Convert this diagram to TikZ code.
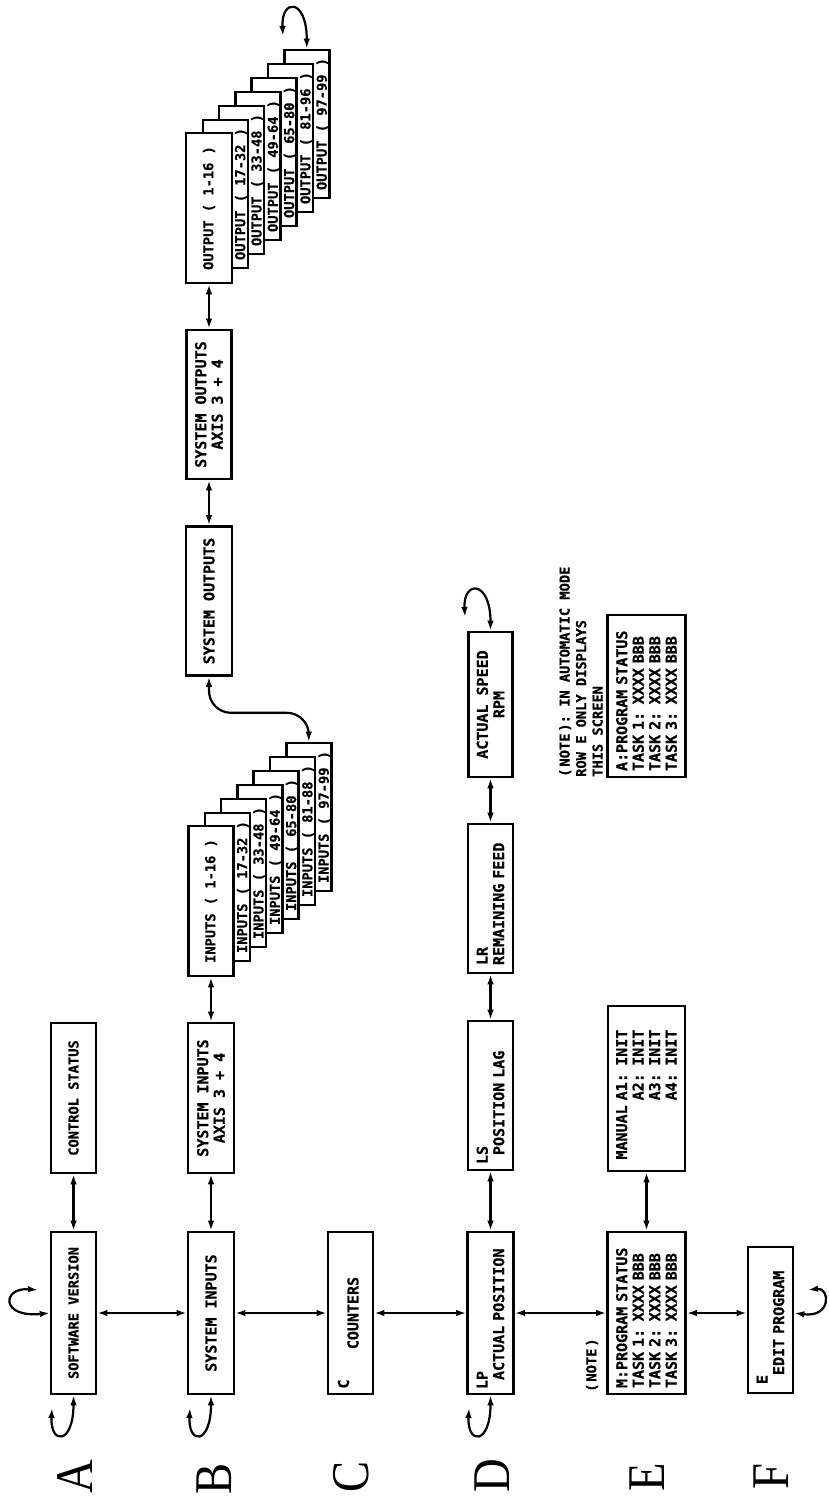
\documentclass[tikz,border=0pt]{standalone}
\usepackage{fontspec}
\usepackage{graphicx}
\usetikzlibrary{arrows.meta}
\newfontfamily\sfam{DejaVu Sans Mono}[BoldFeatures={FakeBold=0.6}]
\newfontfamily\lfam{Liberation Serif}
\newcommand{\pff}{\sfam\bfseries\fontsize{15}{16.5}\selectfont}
\newcommand{\pfs}{\sfam\bfseries\fontsize{13.7}{16.5}\selectfont}
\begin{document}
\begin{tikzpicture}[x=1pt,y=-1pt,
  bx/.style 2 args={draw, line width=2.6pt, fill=white, rotate=90,
    minimum width=#1, minimum height=#2, inner sep=0pt, align=center, font=\pff},
  lbx/.style n args={3}{bx={#1}{#2}, align=left, text width=#3},
  tx/.style={rotate=90, inner sep=0pt, font=\pfs},
  con/.style={line width=2.2pt, {Latex[length=10pt,width=6.5pt]}-{Latex[length=10pt,width=6.5pt]}},
  big/.style={rotate=90, inner sep=0pt, font=\lfam\fontsize{53}{60}\selectfont},
]
\useasboundingbox (0,0) rectangle (828,1498);

% ---------- Row A
\node[bx={162pt}{45pt}, font=\pfs] (sv) at (73.5,1313) {SOFTWARE VERSION};
\node[bx={150pt}{45pt}, font=\pfs] (cs) at (73.5,1098) {CONTROL STATUS};

% ---------- Row B
\node[bx={162pt}{46pt}] (si) at (211,1313) {SYSTEM INPUTS};
\node[bx={150pt}{46pt}] (sia) at (211,1098) {SYSTEM INPUTS\\AXIS 3 + 4};

\node[bx={148pt}{45pt}] (in7) at (308.8,817) {};
\node[tx] (in7t) at ([xshift=-8.2pt]in7.south) {INPUTS ( 97-99 )};
\node[bx={148pt}{45pt}] (in6) at (292.5,831) {};
\node[tx] (in6t) at ([xshift=-8.2pt]in6.south) {INPUTS ( 81-88 )};
\node[bx={148pt}{45pt}] (in5) at (276.2,845) {};
\node[tx] (in5t) at ([xshift=-8.2pt]in5.south) {INPUTS ( 65-80 )};
\node[bx={148pt}{45pt}] (in4) at (259.9,859) {};
\node[tx] (in4t) at ([xshift=-8.2pt]in4.south) {INPUTS ( 49-64 )};
\node[bx={148pt}{45pt}] (in3) at (243.6,873) {};
\node[tx] (in3t) at ([xshift=-8.2pt]in3.south) {INPUTS ( 33-48 )};
\node[bx={148pt}{45pt}] (in2) at (227.3,887) {};
\node[tx] (in2t) at ([xshift=-8.2pt]in2.south) {INPUTS ( 17-32 )};
\node[bx={150pt}{45pt}, font=\pfs] (in1) at (211,901) {INPUTS ( 1-16 )};

\node[bx={149pt}{46pt}] (so) at (209,601) {SYSTEM OUTPUTS};
\node[bx={149pt}{45pt}] (soa) at (209,404.5) {SYSTEM OUTPUTS\\AXIS 3 + 4};

\node[bx={148pt}{45pt}] (out7) at (306.8,124) {};
\node[tx] (out7t) at ([xshift=-8.2pt]out7.south) {OUTPUT ( 97-99 )};
\node[bx={148pt}{45pt}] (out6) at (290.5,138) {};
\node[tx] (out6t) at ([xshift=-8.2pt]out6.south) {OUTPUT ( 81-96 )};
\node[bx={148pt}{45pt}] (out5) at (274.2,152) {};
\node[tx] (out5t) at ([xshift=-8.2pt]out5.south) {OUTPUT ( 65-80 )};
\node[bx={148pt}{45pt}] (out4) at (257.9,166) {};
\node[tx] (out4t) at ([xshift=-8.2pt]out4.south) {OUTPUT ( 49-64 )};
\node[bx={148pt}{45pt}] (out3) at (241.6,180) {};
\node[tx] (out3t) at ([xshift=-8.2pt]out3.south) {OUTPUT ( 33-48 )};
\node[bx={148pt}{45pt}] (out2) at (225.3,194) {};
\node[tx] (out2t) at ([xshift=-8.2pt]out2.south) {OUTPUT ( 17-32 )};
\node[bx={150pt}{46pt}, font=\pfs] (out1) at (209,208) {OUTPUT ( 1-16 )};

% ---------- Row C
\node[bx={162pt}{45pt}] (ct) at (350.5,1313) {};
\node[tx, font=\pff] (ctT) at (353,1313) {COUNTERS};
\node[tx, font=\pff] (ctC) at (343.5,1384) {C};

% ---------- Row D
\node[lbx={162pt}{46pt}{152pt}] (ap) at (490.5,1313) {LP\\\phantom{L}ACTUAL POSITION};
\node[lbx={149pt}{45pt}{137pt}] (ls) at (490.5,1095.5) {LS\\\phantom{L}POSITION LAG};
\node[lbx={149pt}{45pt}{133pt}] (lr) at (490.5,898.5) {LR\\REMAINING FEED};
\node[bx={145pt}{44pt}] (asp) at (490.5,704.5) {ACTUAL SPEED\\RPM};

% ---------- Row E
\node[lbx={162pt}{78pt}{150pt}] (ps) at (646.5,1313)
  {M:PROGRAM STATUS\\TASK 1: XXXX BBB\\TASK 2: XXXX BBB\\TASK 3: XXXX BBB};
\node[lbx={165pt}{77pt}{142pt}] (man) at (646.5,1088.5)
  {MANUAL A1: INIT\\\phantom{MANUAL }A2: INIT\\\phantom{MANUAL }A3: INIT\\\phantom{MANUAL }A4: INIT};
\node[lbx={162pt}{78pt}{150pt}] (aps) at (646.5,696)
  {A:PROGRAM STATUS\\TASK 1: XXXX BBB\\TASK 2: XXXX BBB\\TASK 3: XXXX BBB};
\node[tx, font=\pfs, anchor=west] (noteE) at (592,1392) {(\kern2pt NOTE\kern2pt)};
\node[tx, font=\pfs, align=left, anchor=west] (noteA) at (581,777)
  {(\kern2pt NOTE\kern2pt): IN AUTOMATIC MODE\\ROW E ONLY DISPLAYS\\THIS SCREEN};

% ---------- Row F
\node[lbx={146pt}{45pt}{128pt}] (ed) at (770.5,1320) {E\\\phantom{E}EDIT PROGRAM};

% ---------- row letters
\node[big] (lA) at (75.5,1477) {\scalebox{0.88}[1]{A}};
\node[big] (lB) at (214.5,1479) {\scalebox{0.88}[1]{B}};
\node[big] (lC) at (351,1477) {\scalebox{0.88}[1]{C}};
\node[big] (lD) at (492.5,1476) {\scalebox{0.88}[1]{D}};
\node[big] (lE) at (647,1477) {\scalebox{0.88}[1]{E}};
\node[big] (lF) at (771,1477) {\scalebox{0.88}[1]{F}};

% ---------- connectors
\draw[con] (sv.east) -- (cs.west);
\draw[con] (sv.south) -- (si.north);
\draw[con] (si.south) -- (ct.north);
\draw[con] (ct.south) -- (ap.north);
\draw[con] (ap.south) -- (ps.north);
\draw[con] (ps.south) -- (ps.south -| ed.north);
\draw[con] (si.east) -- (sia.west);
\draw[con] (sia.east) -- (in1.west);
\draw[con, rounded corners=22pt] (so.west) -- ++(0,36) -| (in7.east);
\draw[con] (so.east) -- (soa.west);
\draw[con] (soa.east) -- (out1.west);
\draw[con] (ap.east) -- (ls.west);
\draw[con] (ls.east) -- (lr.west);
\draw[con] (lr.east) -- (asp.west);
\draw[con] (ps.east) -- (man.west);

% ---------- self loops
\coordinate (aB) at (52,1408);
\draw[con] (sv.west) .. controls (73.5,1445) and (50,1445) .. (aB);
\coordinate (aL) at (38,1290);
\draw[con] (sv.north) .. controls (0,1318) and (2,1287) .. (aL);
\coordinate (bB) at (190,1408);
\draw[con] (si.west) .. controls (211,1445) and (188,1445) .. (bB);
\coordinate (dB) at (469,1408);
\draw[con] (ap.west) .. controls (490.5,1445) and (467,1445) .. (dB);
\coordinate (dT) at (465,617);
\draw[con] (asp.east) .. controls (490.5,580) and (463,580) .. (dT);
\coordinate (oT) at (283,36);
\draw[con] (out7.east) .. controls (306.8,-2) and (281,-2) .. (oT);
\coordinate (fR) at (808,1290);
\draw[con] (ps.south -| ed.south) .. controls (832,1318) and (830,1287) .. (fR);
\end{tikzpicture}
\end{document}
